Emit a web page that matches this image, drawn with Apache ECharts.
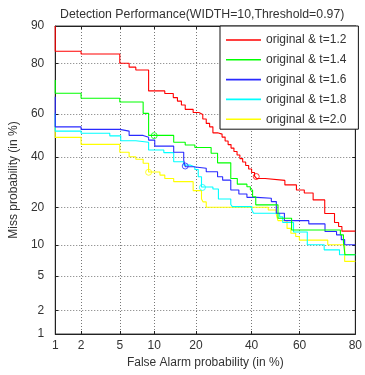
<!DOCTYPE html>
<html><head><meta charset="utf-8">
<script src="https://cdn.jsdelivr.net/npm/echarts@6/dist/echarts.min.js"></script>
<style>html,body{margin:0;padding:0;background:#fff}#c{width:365px;height:375px}</style>
</head><body><div id="c"></div>
<script>
const xTicks=[1,2,5,10,20,40,60,80];
const yTicks=[1,2,5,10,20,40,60,80,90];
const names=['original & t=1.2','original & t=1.4','original & t=1.6','original & t=1.8','original & t=2.0'];
const colors=['#ff0000','#00ff00','#2a2aff','#00ffff','#ffff00'];
// [False alarm %, Miss %]
const red=[[1,90],[1,83.8],[2,83.0],[5,80.1],[6.1,78.8],[7.0,77.8],[9.0,69.9],[12.1,68.8],[14.0,67.1],[15.0,65.6],[16.0,63.9],[17.0,62.0],[19.2,60.6],[20.9,59.7],[22.1,57.6],[23.2,55.6],[24.3,54.0],[25.4,51.2],[27.0,50.6],[28.6,49.2],[29.7,47.4],[30.8,45.7],[31.9,44.1],[33.0,42.5],[34.2,40.9],[35.3,39.3],[36.4,37.8],[37.6,36.2],[38.8,34.7],[40.0,33.2],[41.2,31.7],[42.0,30.7],[45.6,29.9],[53.9,28.1],[58.7,26.1],[61.9,25.0],[65.4,22.5],[69.8,18.0],[73.3,15.4],[74.7,14.3],[75.8,13.1],[80,13.1]];
const green=[[1,74.2],[1,68.9],[2,66.8],[5,65.2],[8.1,60.2],[9.0,50.0],[14.1,46.8],[17.0,45.5],[19.7,44.4],[24.8,41.7],[27.0,37.4],[31.8,30.7],[34.3,28.4],[38.1,27.4],[39.5,26.1],[40.4,23.6],[41.7,20.8],[51.0,16.6],[56.7,13.4],[75.3,12.2],[76.3,10.6],[76.8,8.1],[80,8.1]];
const blue=[[1,67.5],[1,54.0],[2,52.8],[5,52.0],[6.1,50.0],[8.1,49.1],[9.0,47.8],[10.1,45.0],[14.1,42.2],[16.6,38.6],[17.0,35.7],[19.2,35.0],[23.2,33.5],[27.0,31.4],[28.8,30.0],[31.8,26.1],[34.9,24.6],[38.1,23.4],[42.1,23.1],[48.2,21.9],[50.3,18.1],[53.7,15.9],[63.7,15.0],[69.9,13.0],[74.0,12.2],[75.6,11.1],[76.7,10.0],[80,10.0]];
const cyan=[[1,60.2],[1,52.0],[2,51.0],[4.0,49.8],[5.1,47.5],[7.0,46.8],[9.0,43.2],[11.9,42.0],[14.1,37.9],[16.6,36.4],[18.3,35.6],[19.7,34.5],[20.7,31.4],[21.7,27.3],[25.4,26.5],[27.3,22.8],[31.8,20.9],[32.4,20.2],[40.1,19.1],[40.8,18.1],[51.7,17.0],[53.0,15.4],[57.5,12.9],[63.1,10.0],[69.6,9.0],[75.0,8.1],[80,8.1]];
const yellow=[[1,54.0],[1,49.1],[2,45.8],[5,42.2],[6.1,40.1],[7.0,39.0],[8.1,37.2],[9.0,33.4],[11.1,32.1],[12.1,30.7],[14.1,29.4],[19.2,25.9],[21.7,22.8],[22.2,21.8],[23.2,20.0],[46.9,19.1],[50.3,17.7],[51.0,15.9],[54.8,13.8],[56.4,12.6],[58.4,11.8],[59.9,11.0],[70.9,10.0],[76.7,7.0],[80,7.0]];
const circles=[[41.9,31.5],[10.0,49.9],[17.0,36.0],[22.0,27.1],[9.0,33.3]];
const curves=[red,green,blue,cyan,yellow];

function probit(p){
  const a=[-3.969683028665376e+01,2.209460984245205e+02,-2.759285104469687e+02,1.383577518672690e+02,-3.066479806614716e+01,2.506628277459239e+00];
  const b=[-5.447609879822406e+01,1.615858368580409e+02,-1.556989798598866e+02,6.680131188771972e+01,-1.328068155288572e+01];
  const c=[-7.784894002430293e-03,-3.223964580411365e-01,-2.400758277161838e+00,-2.549732539343734e+00,4.374664141464968e+00,2.938163982698783e+00];
  const d=[7.784695709041462e-03,3.224671290700398e-01,2.445134137142996e+00,3.754408661907416e+00];
  const pl=0.02425;let q,r;
  if(p<pl){q=Math.sqrt(-2*Math.log(p));return (((((c[0]*q+c[1])*q+c[2])*q+c[3])*q+c[4])*q+c[5])/((((d[0]*q+d[1])*q+d[2])*q+d[3])*q+1);}
  if(p<=1-pl){q=p-0.5;r=q*q;return (((((a[0]*r+a[1])*r+a[2])*r+a[3])*r+a[4])*r+a[5])*q/(((((b[0]*r+b[1])*r+b[2])*r+b[3])*r+b[4])*r+1);}
  q=Math.sqrt(-2*Math.log(1-p));return -(((((c[0]*q+c[1])*q+c[2])*q+c[3])*q+c[4])*q+c[5])/((((d[0]*q+d[1])*q+d[2])*q+d[3])*q+1);
}
const P=v=>probit(v/100);
const xTv=xTicks.map(P), yTv=yTicks.map(P);
function fmt(ticks,tv){return v=>{for(let i=0;i<tv.length;i++){if(Math.abs(tv[i]-v)<1e-6)return String(ticks[i]);}return '';};}
const font='Liberation Sans';
const txt={color:'#333',fontSize:12,fontFamily:font};
function xAx(pos,show){return {type:'value',position:pos,min:xTv[0],max:xTv[xTv.length-1],
  axisLine:{show:true,onZero:false,lineStyle:{color:'#222',width:1}},
  axisTick:{show:true,inside:true,length:3,customValues:xTv,lineStyle:{color:'#222'}},
  axisLabel:{show:show,customValues:xTv,formatter:fmt(xTicks,xTv),margin:6,...txt},
  splitLine:{show:show,lineStyle:{color:'#777',type:[1,2],width:1}},
  name:show?'False Alarm probability (in %)':'',nameLocation:'middle',nameGap:19,nameTextStyle:txt};}
function yAx(pos,show){return {type:'value',position:pos,min:yTv[0],max:yTv[yTv.length-1],
  axisLine:{show:true,onZero:false,lineStyle:{color:'#222',width:1}},
  axisTick:{show:true,inside:true,length:3,customValues:yTv,lineStyle:{color:'#222'}},
  axisLabel:{show:show,customValues:yTv,formatter:fmt(yTicks,yTv),margin:11,...txt},
  splitLine:{show:show,lineStyle:{color:'#777',type:[1,2],width:1}},
  name:show?'Miss probability (in %)':'',nameLocation:'middle',nameGap:30,nameRotate:90,nameTextStyle:txt};}
const series=curves.map((d,i)=>({name:names[i],type:'line',step:'end',symbol:'none',showSymbol:false,xAxisIndex:0,yAxisIndex:0,
  lineStyle:{color:colors[i],width:1.1},itemStyle:{color:colors[i]},
  data:d.map(p=>[P(p[0]),P(p[1])]),z:3+(4-i)}));
series.push({type:'scatter',symbol:'circle',symbolSize:6,xAxisIndex:0,yAxisIndex:0,z:10,
  data:circles.map((p,i)=>({value:[P(p[0]),P(p[1])],itemStyle:{color:'transparent',borderColor:colors[i],borderWidth:1}}))});
const lineIcon='path://M0,0L0.01,0L0,0.01ZM0,14L0.01,14L0,13.99ZM0,6.2L35,6.2L35,7.8L0,7.8Z';
const chart=echarts.init(document.getElementById('c'),null,{renderer:'canvas'});
chart.setOption({
  animation:false,backgroundColor:'#fff',
  title:{text:'Detection Performance(WIDTH=10,Threshold=0.97)',left:55,top:4,textStyle:{...txt,fontSize:12.3,fontWeight:'normal'}},
  grid:{left:52,right:6,top:26,bottom:41,show:true,borderColor:'#444',borderWidth:1},
  legend:{data:names.map(n=>({name:n,icon:lineIcon})),orient:'vertical',left:220,top:26,padding:[7,12,3,6],itemGap:5.8,itemWidth:35,itemHeight:14,
    backgroundColor:'#fff',borderColor:'#111',borderWidth:1,textStyle:txt},
  xAxis:[xAx('bottom',true),xAx('top',false)],
  yAxis:[yAx('left',true),yAx('right',false)],
  series:series
});
</script></body></html>
